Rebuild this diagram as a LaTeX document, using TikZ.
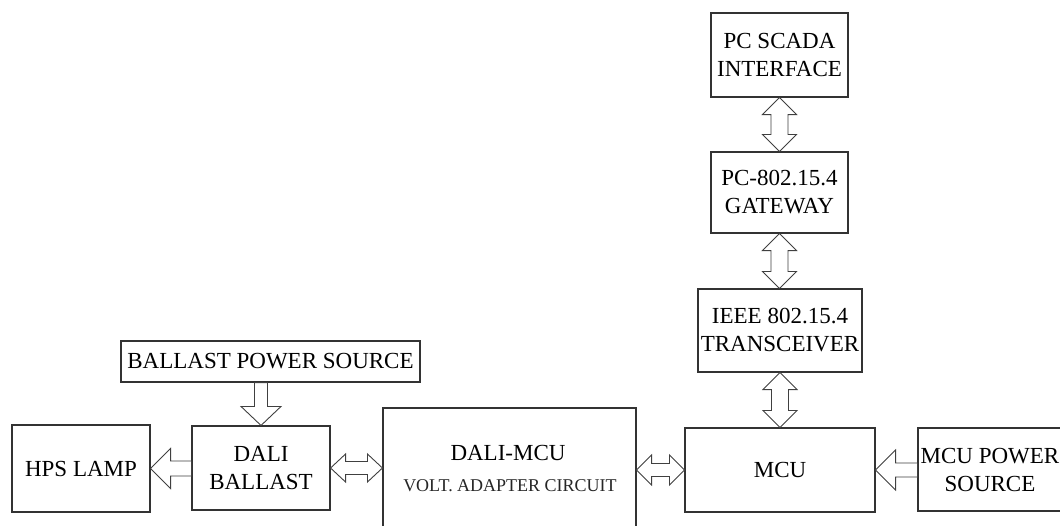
\documentclass[tikz,border=0pt]{standalone}
\usepackage{fontspec}
\setmainfont{Liberation Serif}
\usetikzlibrary{calc}
\tikzset{
  blk/.style={draw=black!80, line width=1.1pt, fill=white, inner sep=0pt, align=center,
              font=\fontsize{23}{28}\selectfont, text=black},
  barrow/.style={draw=black!75, line width=0.9pt, fill=white, line join=miter},
  subtxt/.style={font=\fontsize{18}{22}\selectfont, text=black!85, inner sep=0pt},
}
% vertical double arrow: #1 top point, #2 bottom point, #3 half head width, #4 half shaft width, #5 head length
\newcommand\vdarrow[5]{\draw[barrow] let \p1=#1, \p2=#2 in
  (\x1,\y1) -- (\x1+#3,\y1-#5) -- (\x1+#4,\y1-#5) -- (\x1+#4,\y2+#5) -- (\x1+#3,\y2+#5) -- (\x1,\y2)
  -- (\x1-#3,\y2+#5) -- (\x1-#4,\y2+#5) -- (\x1-#4,\y1-#5) -- (\x1-#3,\y1-#5) -- cycle;}
% horizontal double arrow: #1 left point, #2 right point
\newcommand\hdarrow[5]{\draw[barrow] let \p1=#1, \p2=#2 in
  (\x1,\y1) -- (\x1+#5,\y1+#3) -- (\x1+#5,\y1+#4) -- (\x2-#5,\y1+#4) -- (\x2-#5,\y1+#3) -- (\x2,\y1)
  -- (\x2-#5,\y1-#3) -- (\x2-#5,\y1-#4) -- (\x1+#5,\y1-#4) -- (\x1+#5,\y1-#3) -- cycle;}
% single left arrow: #1 tip (left), #2 tail (right)
\newcommand\lsarrow[5]{\draw[barrow] let \p1=#1, \p2=#2 in
  (\x1,\y1) -- (\x1+#5,\y1+#3) -- (\x1+#5,\y1+#4) -- (\x2,\y1+#4) -- (\x2,\y1-#4)
  -- (\x1+#5,\y1-#4) -- (\x1+#5,\y1-#3) -- cycle;}
% single down arrow: #1 tail (top), #2 tip (bottom)
\newcommand\dsarrow[5]{\draw[barrow] let \p1=#1, \p2=#2 in
  (\x2,\y2) -- (\x2+#3,\y2+#5) -- (\x2+#4,\y2+#5) -- (\x2+#4,\y1) -- (\x2-#4,\y1)
  -- (\x2-#4,\y2+#5) -- (\x2-#3,\y2+#5) -- cycle;}
\begin{document}
\begin{tikzpicture}[x=1pt,y=-1pt]
\clip (0,0) rectangle (1060,525);
\fill[white] (0,0) rectangle (1060,525);

% right column
\node[blk, minimum width=137pt, minimum height=84pt] (scada) at (779.5,55) {PC SCADA\\INTERFACE};
\node[blk, minimum width=137pt, minimum height=81pt] (gw) at (779.5,192.5) {PC-802.15.4\\GATEWAY};
\node[blk, minimum width=164pt, minimum height=83pt] (trx) at (780,330.5) {IEEE 802.15.4\\TRANSCEIVER};
\node[blk, minimum width=190pt, minimum height=84pt] (mcu) at (780,470) {MCU};
\node[blk, minimum width=144pt, minimum height=83pt] (mps) at (990,469.5) {MCU POWER\\SOURCE};

% left part
\node[blk, minimum width=299pt, minimum height=41pt] (bps) at (270.5,361.5) {BALLAST POWER SOURCE};
\node[blk, minimum width=138pt, minimum height=84pt] (db) at (261,468) {DALI\\BALLAST};
\node[blk, minimum width=138pt, minimum height=87pt] (hps) at (81,468.5) {HPS LAMP};

% DALI-MCU block (runs off the bottom edge)
\node[blk, minimum width=253pt, minimum height=150pt] (dm) at (509.5,483) {};
\node[font=\fontsize{23}{28}\selectfont, text=black, inner sep=0pt] (dmt1) at (508,453) {DALI-MCU};
\node[subtxt] (dmt2) at (510,486) {VOLT. ADAPTER CIRCUIT};

% arrows
\vdarrow{(scada.south)}{(gw.north)}{17pt}{8.5pt}{17pt}
\vdarrow{(gw.south)}{(trx.north)}{17pt}{8.5pt}{17pt}
\vdarrow{(trx.south)}{(mcu.north)}{17pt}{8.5pt}{17pt}
\dsarrow{(db.north |- bps.south)}{(db.north)}{20pt}{6.5pt}{19pt}
\lsarrow{(hps.east)}{(db.west)}{20pt}{7.5pt}{20pt}
\hdarrow{(db.east)}{(dm.west |- db.east)}{14pt}{6.5pt}{15pt}
\hdarrow{(dm.east |- mcu.west)}{(mcu.west)}{15pt}{6.5pt}{15pt}
\lsarrow{(mcu.east)}{(mps.west |- mcu.east)}{20pt}{7pt}{20pt}
\end{tikzpicture}
\end{document}
